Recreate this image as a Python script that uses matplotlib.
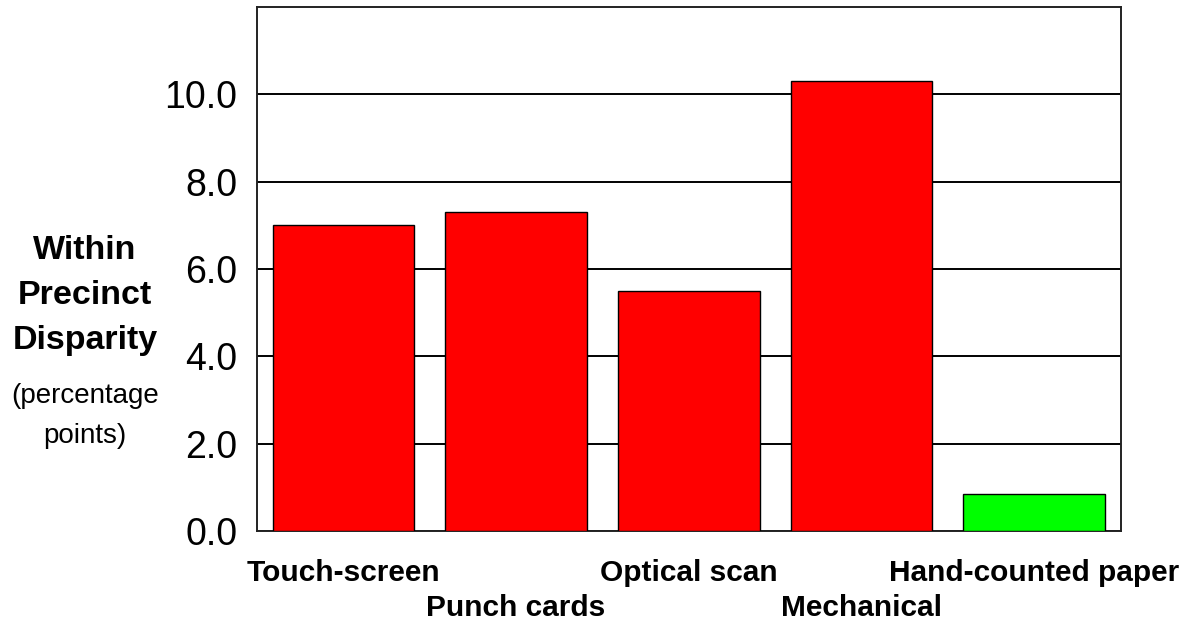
import matplotlib
matplotlib.use("Agg")
import matplotlib.pyplot as plt

# =====================
# DATA
# =====================
categories = ["Touch-screen", "Punch cards", "Optical scan", "Mechanical", "Hand-counted paper"]
disparity = [7.0, 7.3, 5.5, 10.3, 0.85]
bar_colors = ["#ff0000", "#ff0000", "#ff0000", "#ff0000", "#00ff00"]
yticks = [0, 2, 4, 6, 8, 10]
ytick_labels = ["0.0", "2.0", "4.0", "6.0", "8.0", "10.0"]
ylabel_bold = ["Within", "Precinct", "Disparity"]
ylabel_note = ["(percentage", "points)"]

plt.rcParams['font.family'] = ['Liberation Sans', 'DejaVu Sans']

fig = plt.figure(figsize=(12.01, 6.25), dpi=100)
ax = fig.add_axes([0.214, 0.150, 0.719, 0.839])

x = list(range(len(categories)))
ax.bar(x, disparity, width=0.82, color=bar_colors, edgecolor="black", linewidth=1, zorder=3)

ax.set_xlim(-0.5, len(categories) - 0.5)
ax.set_ylim(0, 12)
ax.set_yticks(yticks)
ax.set_yticklabels(ytick_labels, fontsize=27)
ax.tick_params(axis="y", length=0, pad=14)
ax.set_xticks([])
ax.grid(axis="y", color="black", linewidth=1.4, zorder=1)

for spine in ax.spines.values():
    spine.set_linewidth(1.4)
    spine.set_color("#222222")

# staggered category labels
for i, cat in enumerate(categories):
    yy = -0.094 if i % 2 == 0 else -0.161
    ax.text(i, yy, cat, transform=ax.get_xaxis_transform(), ha="center", va="baseline",
            fontsize=21.5, fontweight="bold", clip_on=False)

# y axis title, one line at a time
for j, line in enumerate(ylabel_bold):
    fig.text(85 / 1201, 1 - (259 + 45 * j) / 625, line, ha="center", va="baseline",
             fontsize=24.5, fontweight="bold")
for j, line in enumerate(ylabel_note):
    fig.text(85 / 1201, 1 - (403 + 40 * j) / 625, line, ha="center", va="baseline",
             fontsize=20)

fig.savefig("out.png", dpi=100)
